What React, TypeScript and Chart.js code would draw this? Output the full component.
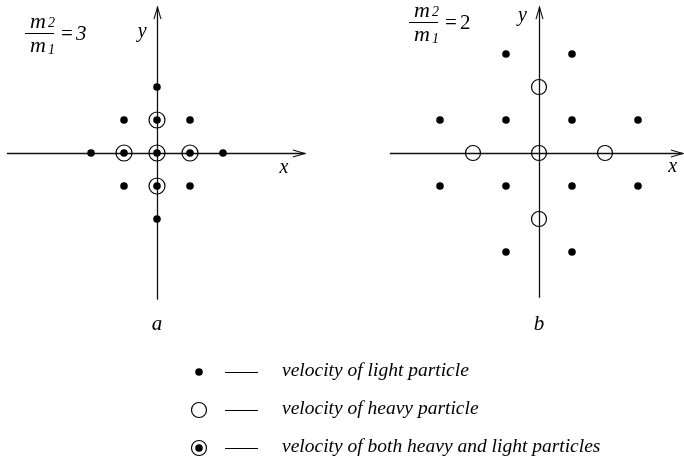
import React, { useEffect, useRef } from "react";
import { Chart, registerables } from "chart.js";

Chart.register(...registerables);

// ---- data (units of the velocity lattice) ----
const panelALightX = [-1, 1, -1, 1, -2, 2, 0, 0];
const panelALightY = [1, 1, -1, -1, 0, 0, 2, -2];
const panelABothX = [0, -1, 1, 0, 0];
const panelABothY = [0, 0, 0, 1, -1];
const panelBLightX = [-1, 1, -3, -1, 1, 3, -3, -1, 1, 3, -1, 1];
const panelBLightY = [3, 3, 1, 1, 1, 1, -1, -1, -1, -1, -3, -3];
const panelBHeavyX = [0, -2, 0, 2, 0];
const panelBHeavyY = [2, 0, 0, 0, -2];
const massRatios = ["3", "2"];
const panelNames = ["a", "b"];
const legendLabels = [
  "velocity of light particle",
  "velocity of heavy particle",
  "velocity of both heavy and light particles",
];

// ---- layout ----
const W = 684;
const H = 462;
const UNIT = 33;
const ORIGIN_A = { x: 157, y: 153 };
const ORIGIN_B = { x: 539, y: 153 };
const AXIS_A = { xmin: -4.55, xmax: 4.48, ymin: -4.45, ymax: 4.42 };
const AXIS_B = { xmin: -4.52, xmax: 4.36, ymin: -4.39, ymax: 4.42 };
const FONT = '"Liberation Serif", "Times New Roman", serif';

const zip = (xs: number[], ys: number[]) => xs.map((x, i) => ({ x, y: ys[i] }));

function scaleFor(origin: number, axis: "x" | "y") {
  if (axis === "x") {
    return { type: "linear", display: false, min: -origin / UNIT, max: (W - origin) / UNIT };
  }
  return { type: "linear", display: false, min: -(H - origin) / UNIT, max: origin / UNIT };
}

function drawAxes(ctx: CanvasRenderingContext2D, sx: any, sy: any, ax: any) {
  const x0 = sx.getPixelForValue(ax.xmin);
  const x1 = sx.getPixelForValue(ax.xmax);
  const y0 = sy.getPixelForValue(0) + 0.5;
  const yb = sy.getPixelForValue(ax.ymin);
  const yt = sy.getPixelForValue(ax.ymax);
  const xc = sx.getPixelForValue(0) + 0.5;
  ctx.save();
  ctx.strokeStyle = "#111";
  ctx.lineWidth = 1.3;
  ctx.beginPath();
  ctx.moveTo(x0, y0);
  ctx.lineTo(x1, y0);
  ctx.moveTo(xc, yb);
  ctx.lineTo(xc, yt);
  ctx.stroke();
  ctx.lineWidth = 1.1;
  ctx.beginPath();
  ctx.moveTo(x1 - 12, y0 - 3.5);
  ctx.lineTo(x1, y0);
  ctx.lineTo(x1 - 12, y0 + 3.5);
  ctx.moveTo(xc - 3.5, yt + 12);
  ctx.lineTo(xc, yt);
  ctx.lineTo(xc + 3.5, yt + 12);
  ctx.stroke();
  ctx.restore();
}

function drawFraction(ctx: CanvasRenderingContext2D, left: number, barY: number, ratio: string, italicNum: boolean) {
  ctx.save();
  ctx.fillStyle = "#000";
  ctx.strokeStyle = "#000";
  ctx.textBaseline = "alphabetic";
  ctx.textAlign = "left";
  ctx.font = `italic 22px ${FONT}`;
  ctx.fillText("m", left + 5, barY - 5);
  ctx.fillText("m", left + 5, barY + 19);
  ctx.font = `italic 14px ${FONT}`;
  ctx.fillText("2", left + 23, barY - 6.5);
  ctx.fillText("1", left + 23, barY + 21);
  ctx.lineWidth = 1;
  ctx.beginPath();
  ctx.moveTo(left, barY + 0.5);
  ctx.lineTo(left + 29, barY + 0.5);
  ctx.stroke();
  ctx.font = `21px ${FONT}`;
  ctx.fillText("=", left + 36, barY + 7);
  ctx.font = `${italicNum ? "italic " : ""}21px ${FONT}`;
  ctx.fillText(ratio, left + 51, barY + 7);
  ctx.restore();
}

const overlay = {
  id: "overlay",
  beforeDatasetsDraw(chart: any) {
    const ctx = chart.ctx as CanvasRenderingContext2D;
    const s = chart.scales;
    drawAxes(ctx, s.xa, s.ya, AXIS_A);
    drawAxes(ctx, s.xb, s.yb, AXIS_B);
  },
  afterDatasetsDraw(chart: any) {
    const ctx = chart.ctx as CanvasRenderingContext2D;
    const s = chart.scales;
    ctx.save();
    ctx.fillStyle = "#000";
    ctx.textAlign = "center";
    ctx.textBaseline = "middle";
    ctx.font = `italic 20px ${FONT}`;
    // axis labels
    ctx.fillText("x", s.xa.getPixelForValue(3.85), s.ya.getPixelForValue(-0.45));
    ctx.fillText("y", s.xa.getPixelForValue(-0.45), s.ya.getPixelForValue(3.66));
    ctx.fillText("x", s.xb.getPixelForValue(4.05), s.yb.getPixelForValue(-0.42));
    ctx.fillText("y", s.xb.getPixelForValue(-0.5), s.yb.getPixelForValue(4.15));
    // panel names
    ctx.font = `italic 21px ${FONT}`;
    ctx.fillText(panelNames[0], s.xa.getPixelForValue(0), 324);
    ctx.fillText(panelNames[1], s.xb.getPixelForValue(0), 324);
    ctx.restore();

    drawFraction(ctx, 25, 33, massRatios[0], true);
    drawFraction(ctx, 409, 22, massRatios[1], false);

    // legend
    const rows = [372, 410, 448];
    const mx = 199;
    ctx.save();
    ctx.fillStyle = "#000";
    ctx.strokeStyle = "#000";
    rows.forEach((ry, i) => {
      if (i === 0 || i === 2) {
        ctx.beginPath();
        ctx.arc(mx, ry, 3.8, 0, Math.PI * 2);
        ctx.fill();
      }
      if (i === 1 || i === 2) {
        ctx.lineWidth = 1.2;
        ctx.beginPath();
        ctx.arc(mx, ry, 7.5, 0, Math.PI * 2);
        ctx.stroke();
      }
      ctx.lineWidth = 1;
      ctx.beginPath();
      ctx.moveTo(225, ry + 0.5);
      ctx.lineTo(258, ry + 0.5);
      ctx.stroke();
      ctx.font = `italic 19.5px ${FONT}`;
      ctx.textAlign = "left";
      ctx.textBaseline = "middle";
      ctx.fillText(legendLabels[i], 282, ry - 1);
    });
    ctx.restore();
  },
};

export default function App() {
  const ref = useRef<HTMLCanvasElement | null>(null);
  useEffect(() => {
    if (!ref.current) return;
    const dot = {
      pointStyle: "circle",
      pointRadius: 3.8,
      pointBackgroundColor: "#000",
      pointBorderColor: "#000",
      pointBorderWidth: 0,
      showLine: false,
      clip: false,
    };
    const ring = {
      pointStyle: "circle",
      pointRadius: 8,
      pointBackgroundColor: "rgba(0,0,0,0)",
      pointBorderColor: "#000",
      pointBorderWidth: 1.2,
      showLine: false,
      clip: false,
    };
    const chart = new Chart(ref.current, {
      type: "scatter",
      data: {
        datasets: [
          { label: "a light", data: zip(panelALightX, panelALightY), xAxisID: "xa", yAxisID: "ya", ...dot },
          { label: "a both (light)", data: zip(panelABothX, panelABothY), xAxisID: "xa", yAxisID: "ya", ...dot },
          { label: "a both (heavy)", data: zip(panelABothX, panelABothY), xAxisID: "xa", yAxisID: "ya", ...ring },
          { label: "b light", data: zip(panelBLightX, panelBLightY), xAxisID: "xb", yAxisID: "yb", ...dot },
          { label: "b heavy", data: zip(panelBHeavyX, panelBHeavyY), xAxisID: "xb", yAxisID: "yb", ...ring, pointRadius: 7.5 },
        ] as any,
      },
      options: {
        responsive: false,
        animation: false,
        layout: { padding: 0, autoPadding: false },
        plugins: { legend: { display: false }, tooltip: { enabled: false } },
        events: [],
        scales: {
          x: { display: false },
          y: { display: false },
          xa: scaleFor(ORIGIN_A.x, "x"),
          ya: scaleFor(ORIGIN_A.y, "y"),
          xb: scaleFor(ORIGIN_B.x, "x"),
          yb: scaleFor(ORIGIN_B.y, "y"),
        } as any,
      },
      plugins: [overlay],
    });
    return () => chart.destroy();
  }, []);
  return (
    <div style={{ position: "absolute", left: 0, top: 0, width: W, height: H, background: "#fff" }}>
      <canvas ref={ref} width={W} height={H} style={{ display: "block" }} />
    </div>
  );
}
